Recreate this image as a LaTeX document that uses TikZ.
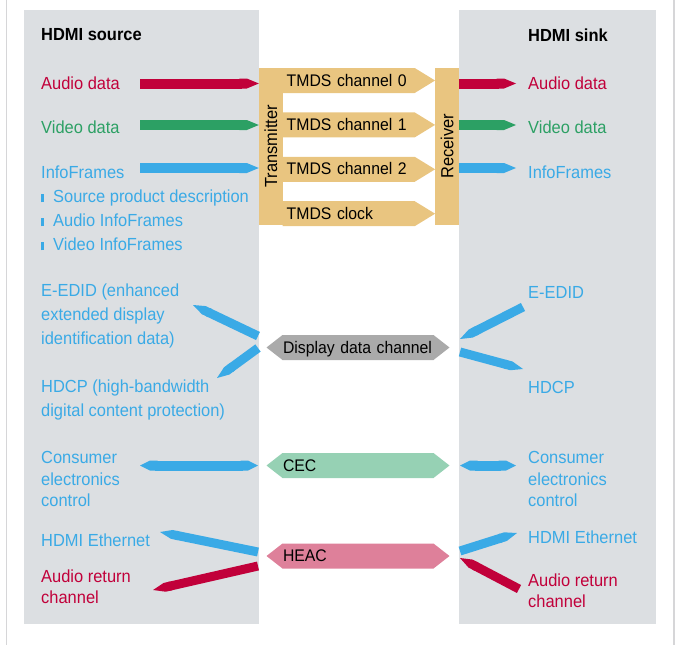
\documentclass[tikz,border=0pt]{standalone}
\usepackage{fontspec}
\setmainfont{Liberation Sans}[FakeStretch=0.94]
\usepackage{tikz}
\usetikzlibrary{shapes.symbols,arrows.meta,positioning,calc}
\definecolor{panelgray}{RGB}{220,223,226}
\definecolor{framegray}{RGB}{214,214,216}
\definecolor{hdmired}{RGB}{193,0,58}
\definecolor{hdmigreen}{RGB}{44,160,100}
\definecolor{hdmiblue}{RGB}{58,170,230}
\definecolor{tmdstan}{RGB}{233,197,128}
\definecolor{ddcgray}{RGB}{170,170,170}
\definecolor{cecgreen}{RGB}{150,209,180}
\definecolor{heacpink}{RGB}{222,128,154}
\newcommand{\bul}{\rule{3pt}{8pt}\hspace{9pt}}

\begin{document}
\begin{tikzpicture}[
		x=1pt, y=-1pt,
		font=\fontsize{17.5}{24}\selectfont,
		node distance=19pt,
		panel/.style={rectangle, fill=panelgray, inner sep=0pt, anchor=north west},
		lbl/.style={anchor=west, inner sep=0pt, align=left},
		title/.style={lbl, font=\fontsize{17.5}{24}\selectfont\bfseries},
		tightlbl/.style={lbl, font=\fontsize{17.5}{21.5}\selectfont},
		bar/.style={rectangle, fill=tmdstan, inner sep=0pt,
				minimum width=23.5pt, minimum height=157.5pt},
		chan/.style={signal, signal to=east, signal pointer angle=63, fill=tmdstan,
				font=\fontsize{16.8}{20}\selectfont,
				text width=124pt, align=left, inner xsep=4pt, inner ysep=0pt,
				minimum height=25pt, text height=13.5pt, text depth=2.5pt},
		link/.style={signal, signal to=east and west, signal pointer angle=76,
				font=\fontsize{16.8}{20}\selectfont,
				text width=150pt, align=left, inner xsep=0.5pt, inner ysep=0pt,
				minimum height=25pt, text height=13.5pt, text depth=2.5pt},
		arr/.style={line width=10pt, -{Triangle Cap[length=12pt]}},
		darr/.style={line width=10pt, {Triangle Cap[length=10pt]}-{Triangle Cap[length=10pt]}},
		sarr/.style={line width=9pt, {Triangle Cap[length=12pt]}-},
		]
		\useasboundingbox (0,0) rectangle (675,645);
		\draw[framegray, line width=1.5pt] (6.5,0) -- (6.5,645) (674,0) -- (674,645);

		% Panels
		\node[panel, minimum width=235pt, minimum height=614pt] (srcpanel) at (24,10) {};
		\node[panel, minimum width=197pt, minimum height=614pt] (snkpanel) at (459,10) {};

		% Source side
		\node[title] (srctitle) at (41,35) {HDMI source};
		\node[lbl, text=hdmired] (srcaudio) at (41,83) {Audio data};
		\node[lbl, text=hdmigreen] (srcvideo) at (41,127) {Video data};
		\node[lbl, text=hdmiblue] (srcinfo) at (41,172) {InfoFrames};
		\node[lbl, text=hdmiblue] (srclist) at (41,220) {\bul Source product description\\\bul Audio InfoFrames\\\bul Video InfoFrames};
		\node[lbl, text=hdmiblue] (srcedid) at (41,316) {E-EDID (enhanced\\extended display\\identification data)};
		\node[lbl, text=hdmiblue] (srchdcp) at (41,400) {HDCP (high-bandwidth\\digital content protection)};
		\node[tightlbl, text=hdmiblue] (srccec) at (41,479) {Consumer\\electronics\\control};
		\node[lbl, text=hdmiblue] (srceth) at (41,540) {HDMI Ethernet};
		\node[tightlbl, text=hdmired] (srcarc) at (41,586.5) {Audio return\\channel};

		% Sink side
		\node[title] (snktitle) at (528,35) {HDMI sink};
		\node[lbl, text=hdmired] (snkaudio) at (528,83) {Audio data};
		\node[lbl, text=hdmigreen] (snkvideo) at (528,127) {Video data};
		\node[lbl, text=hdmiblue] (snkinfo) at (528,172) {InfoFrames};
		\node[lbl, text=hdmiblue] (snkedid) at (528,292) {E-EDID};
		\node[lbl, text=hdmiblue] (snkhdcp) at (528,387) {HDCP};
		\node[tightlbl, text=hdmiblue] (snkcec) at (528,479) {Consumer\\electronics\\control};
		\node[lbl, text=hdmiblue] (snketh) at (528,537) {HDMI Ethernet};
		\node[tightlbl, text=hdmired] (snkarc) at (528,590.5) {Audio return\\channel};

		% TMDS link
		\node[bar, label={[rotate=90]center:Transmitter}] (tx) at (270.75,146.4) {};
		\node[bar, label={[rotate=90]center:Receiver}] (rx) at (447,146.4) {};
		\node[chan, anchor=west] (ch0) at (282.5,80.5) {TMDS channel 0};
		\node[chan, below=of ch0] (ch1) {TMDS channel 1};
		\node[chan, below=of ch1] (ch2) {TMDS channel 2};
		\node[chan, below=of ch2] (clk) {TMDS clock};

		% Other channels
		\node[link, fill=ddcgray] (ddc) at (358,347.5) {Display data channel};
		\node[link, fill=cecgreen] (cec) at (358,465.5) {CEC};
		\node[link, fill=heacpink] (heac) at (358,556) {HEAC};

		% Free ends
		\coordinate (srcaudio-out) at (140,83.5);
		\coordinate (srcvideo-out) at (140,125);
		\coordinate (srcinfo-out) at (140,168);
		\coordinate (snkaudio-in) at (516,83.5);
		\coordinate (snkvideo-in) at (516,125);
		\coordinate (snkinfo-in) at (516,168);
		\coordinate (srcedid-a) at (193,305);
		\coordinate (srcedid-b) at (258,336);
		\coordinate (srchdcp-a) at (217,378);
		\coordinate (srchdcp-b) at (258,348);
		\coordinate (srccec-a) at (140,465.5);
		\coordinate (srccec-b) at (258,465.5);
		\coordinate (srceth-a) at (160,532);
		\coordinate (srceth-b) at (258,552);
		\coordinate (srcarc-a) at (153,590);
		\coordinate (srcarc-b) at (258,566);
		\coordinate (snkedid-a) at (460,339);
		\coordinate (snkedid-b) at (523,307);
		\coordinate (snkhdcp-a) at (460,352);
		\coordinate (snkhdcp-b) at (523,369);
		\coordinate (snkcec-a) at (460,465.5);
		\coordinate (snkcec-b) at (516,465.5);
		\coordinate (snketh-a) at (460,551);
		\coordinate (snketh-b) at (517,533);
		\coordinate (snkarc-a) at (460,558);
		\coordinate (snkarc-b) at (519,589);

		% Arrows
		\draw[arr, hdmired] (srcaudio-out) -- (srcaudio-out -| tx.west);
		\draw[arr, hdmigreen] (srcvideo-out) -- (srcvideo-out -| tx.west);
		\draw[arr, hdmiblue] (srcinfo-out) -- (srcinfo-out -| tx.west);
		\draw[arr, hdmired] (snkaudio-in -| rx.east) -- (snkaudio-in);
		\draw[arr, hdmigreen] (snkvideo-in -| rx.east) -- (snkvideo-in);
		\draw[arr, hdmiblue] (snkinfo-in -| rx.east) -- (snkinfo-in);
		\draw[sarr, hdmiblue] (srcedid-a) -- (srcedid-b);
		\draw[sarr, hdmiblue] (srchdcp-a) -- (srchdcp-b);
		\draw[darr, hdmiblue] (srccec-a) -- (srccec-b);
		\draw[sarr, hdmiblue] (srceth-a) -- (srceth-b);
		\draw[sarr, hdmired] (srcarc-a) -- (srcarc-b);
		\draw[sarr, hdmiblue] (snkedid-a) -- (snkedid-b);
		\draw[sarr, hdmiblue] (snkhdcp-b) -- (snkhdcp-a);
		\draw[darr, hdmiblue] (snkcec-a) -- (snkcec-b);
		\draw[sarr, hdmiblue] (snketh-b) -- (snketh-a);
		\draw[sarr, hdmired] (snkarc-a) -- (snkarc-b);
	\end{tikzpicture}
\end{document}
